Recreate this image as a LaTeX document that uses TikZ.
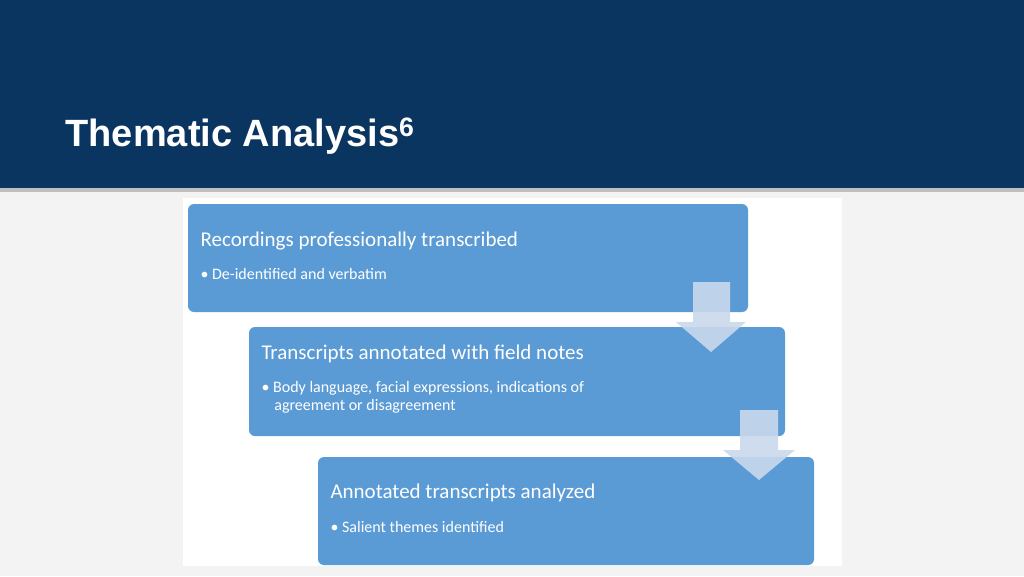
\documentclass[tikz,border=0pt]{standalone}
\usepackage{fontspec}
\setmainfont{Carlito}
\newfontfamily\titlefont{Liberation Sans}
\definecolor{hdr}{HTML}{0A3560}
\definecolor{bgc}{HTML}{F3F3F3}
\definecolor{boxc}{HTML}{5B9BD5}
\definecolor{arrc}{HTML}{C9D9EC}
\tikzset{
 stepbox/.style={fill=boxc, rounded corners=6pt, draw=none},
 head/.style={anchor=west, text=white, font=\fontsize{21}{24}\selectfont},
 bul/.style={anchor=north west, text=white, font=\fontsize{16}{20}\selectfont, align=left},
 darr/.style={fill=arrc, fill opacity=0.9, draw=none}
}
\begin{document}
\begin{tikzpicture}[x=1pt,y=-1pt]
\useasboundingbox (0,0) rectangle (1024,576);
\fill[bgc] (0,0) rectangle (1024,576);
\fill[black!25] (0,188) rectangle (1024,192);
\fill[hdr] (0,0) rectangle (1024,188);
\node[anchor=base west, text=white, font=\titlefont\bfseries\fontsize{38}{44}\selectfont] (title) at (62,146) {Thematic Analysis\textsuperscript{6}};
\fill[white] (183,198) rectangle (842,566);
\fill[stepbox] (188,204) rectangle (748,312);
\fill[stepbox] (249,327) rectangle (785,436);
\fill[stepbox] (318,457) rectangle (814,565);
\node[head] (h1) at (197,241) {Recordings professionally transcribed};
\node[bul] (b1) at (197,265) {\textbullet\ De-identified and verbatim};
\node[head] (h2) at (258,354) {Transcripts annotated with field notes};
\node[bul] (b2) at (258,378) {\textbullet\ Body language, facial expressions, indications of\\[-2pt]\hspace*{0.8em}agreement or disagreement};
\node[head] (h3) at (327,493) {Annotated transcripts analyzed};
\node[bul] (b3) at (327,518) {\textbullet\ Salient themes identified};
\fill[darr] (693,282) -- (730,282) -- (730,322) -- (746,322) -- (711,352) -- (676,322) -- (693,322) -- cycle;
\fill[darr] (740,410) -- (778,410) -- (778,450) -- (795,450) -- (759,480) -- (723,450) -- (740,450) -- cycle;
\end{tikzpicture}
\end{document}
